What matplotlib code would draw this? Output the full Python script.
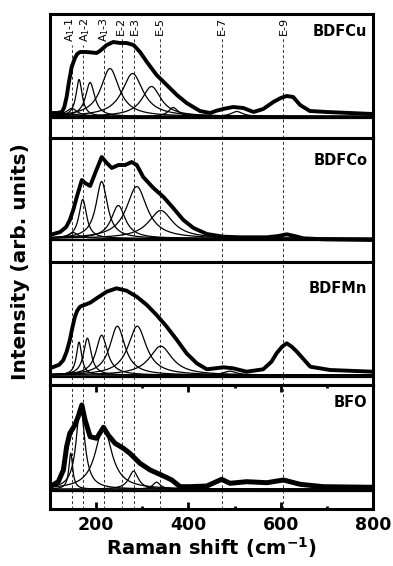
import numpy as np
import matplotlib
matplotlib.use("Agg")
import matplotlib.pyplot as plt
from matplotlib.ticker import MultipleLocator
import matplotlib.transforms as mtransforms

# ---------------- data ----------------
samples = ["BDFCu", "BDFCo", "BDFMn", "BFO"]

mode_labels = ["A$_1$-1", "A$_1$-2", "A$_1$-3", "E-2", "E-3", "E-5", "E-7", "E-9"]
mode_pos = [147, 172, 218, 257, 281, 339, 473, 606]

# measured spectra (thick lines): Raman shift and intensity (arb. units)
cu_x = [100, 115, 126, 131, 136, 141, 147, 154, 159, 165, 179, 190, 201, 208, 223, 237, 252, 266,
        281, 295, 310, 331, 353, 375, 396, 425, 447, 461, 480, 497, 519, 541, 562, 584, 600, 613,
        627, 642, 663, 700, 750, 800]
cu_y = [5, 5, 6, 11, 21, 36, 51, 60, 64, 66, 66, 65.5, 65, 67, 73, 76, 75, 75,
        73, 66, 56, 43, 33, 23, 15, 7, 5, 7.3, 9.5, 11, 10, 6, 9, 16, 20, 22,
        21, 13, 7, 6, 5, 4]

co_x = [100, 122, 135, 143, 151, 158, 169, 176, 187, 198, 212, 223, 234, 248, 263, 277, 288, 302,
        324, 346, 367, 389, 411, 440, 476, 512, 570, 595, 613, 630, 649, 692, 800]
co_y = [5, 8, 13, 20, 31, 43, 60, 57, 54, 67, 83, 77, 72, 75, 75, 78, 75, 63,
        52, 43, 32, 20, 12, 6, 3.3, 2.7, 2.7, 4, 5.7, 4, 1.7, 0.7, 0]

mn_x = [100, 120, 129, 136, 143, 148, 154, 159, 165, 176, 187, 201, 223, 244, 266, 288, 310, 331,
        353, 375, 396, 418, 440, 476, 497, 526, 562, 580, 591, 603, 613, 624, 635, 664, 707, 800]
mn_y = [8.4, 12, 16.7, 25, 36.7, 48, 60, 66, 70, 72, 74, 78.4, 85, 88.4, 86, 80, 71.7, 61.7,
        50, 36.7, 23.4, 13.4, 7.4, 9.4, 8.4, 5, 7.4, 15, 23.4, 30, 33.4, 30, 25, 10, 6.7, 5]

bfo_x = [100, 118, 129, 136, 143, 154, 161, 169, 176, 187, 201, 216, 226, 241, 259, 273, 295, 317,
         346, 364, 382, 403, 440, 472, 490, 526, 570, 606, 642, 692, 800]
bfo_y = [4, 9, 20.7, 44, 57.4, 65.7, 74, 85.7, 70.7, 54, 52.4, 63.4, 55.7, 47.4, 42.4, 37.4, 27.4, 20.7,
         14.7, 10.7, 4, 4, 4.7, 11.4, 7.4, 9, 8, 10.7, 6.4, 4, 3.4]

# fitted Lorentzian components (thin lines): centre, height, FWHM
cu_fit_c = [147, 163, 187, 230, 279, 320, 367, 505]
cu_fit_h = [8, 37, 34, 48, 43, 30, 9, 5]
cu_fit_w = [30, 16, 24, 48, 55, 50, 25, 30]

co_fit_c = [150, 171, 212, 248, 288, 340]
co_fit_h = [6, 39, 57, 33, 52, 28]
co_fit_w = [25, 20, 30, 37, 54, 64]

mn_fit_c = [163, 181, 212, 246, 289, 340, 490]
mn_fit_h = [33, 37, 40, 49, 49, 29, 4]
mn_fit_w = [14, 20, 30, 40, 48, 60, 35]

bfo_fit_c = [145, 166, 216, 281, 331]
bfo_fit_h = [36, 84, 62, 18, 7]
bfo_fit_w = [10, 22, 43, 25, 20]

fit_base = [1.5, 1.5, 1.5, 1.5]

meas_x = [cu_x, co_x, mn_x, bfo_x]
meas_y = [cu_y, co_y, mn_y, bfo_y]
fit_c = [cu_fit_c, co_fit_c, mn_fit_c, bfo_fit_c]
fit_h = [cu_fit_h, co_fit_h, mn_fit_h, bfo_fit_h]
fit_w = [cu_fit_w, co_fit_w, mn_fit_w, bfo_fit_w]

# ---------------- plotting ----------------
plt.rcParams['font.family'] = ['DejaVu Sans']

fig = plt.figure(figsize=(3.93, 5.66), dpi=100)
axes = fig.subplots(4, 1, sharex=True, gridspec_kw=dict(hspace=0))
fig.subplots_adjust(left=50/393, right=373/393, bottom=1-509/566, top=1-14/566)

ylims = [(-19.75, 104), (-21.5, 102.25), (-8.55, 115.2), (-18.3, 105.45)]
label_y = [0.855, 0.82, 0.785, 0.86]
thick_lw = [2.8, 2.8, 2.8, 3.6]

xx = np.linspace(100, 800, 1400)
for i, ax in enumerate(axes):
    ax.set_xlim(100, 800)
    ax.set_ylim(*ylims[i])
    for s in ax.spines.values():
        s.set_linewidth(2.2)
    ax.set_yticks([])
    ax.axhline(0, color='k', lw=1.6, zorder=2)
    for c, h, w in zip(fit_c[i], fit_h[i], fit_w[i]):
        yy = fit_base[i] + h / (1 + ((xx - c) / (w / 2)) ** 2)
        ax.plot(xx, yy, color='k', lw=0.9, zorder=3)
    ax.plot(meas_x[i], meas_y[i], color='k', lw=thick_lw[i], zorder=4,
            solid_joinstyle='round', solid_capstyle='round')
    ax.text(0.982, label_y[i], samples[i], transform=ax.transAxes, ha='right', va='center',
            fontsize=10.5, fontweight='bold')
    if i > 0:
        for p in mode_pos:
            ax.axvline(p, color='0.2', lw=0.7, ls=(0, (3, 2.5)), zorder=1)
    if i < 3:
        ax.tick_params(axis='x', which='both', bottom=False, top=False, labelbottom=False)

axb = axes[3]
axb.xaxis.set_major_locator(MultipleLocator(200))
axb.xaxis.set_minor_locator(MultipleLocator(100))
axb.tick_params(axis='x', which='major', direction='in', top=True, bottom=True,
                length=5, width=2, labelsize=12.5, pad=5)
axb.tick_params(axis='x', which='minor', direction='in', top=True, bottom=True,
                length=2.5, width=2)
for lab in axb.get_xticklabels():
    lab.set_fontweight('bold')
axb.set_xlabel("Raman shift (cm$^{\\mathbf{-1}}$)", fontsize=14, fontweight='bold', labelpad=1)

fig.text(21/393, 1-261.5/566, "Intensity (arb. units)", rotation=90, ha='center', va='center',
         fontsize=14.5, fontweight='bold')

# mode labels in the top panel (small pixel nudges keep neighbours apart)
nudge_px = [-1.8, 1.5, 0, -1.2, 1.2, 0, 0, 0]
ax0 = axes[0]
trans = mtransforms.blended_transform_factory(ax0.transData, ax0.transAxes)
texts = []
for lab, p, dpx in zip(mode_labels, mode_pos, nudge_px):
    tr = trans + mtransforms.ScaledTranslation(dpx / 100, 0, fig.dpi_scale_trans)
    t = ax0.text(p, 0.975, lab, transform=tr, rotation=90, ha='center', va='top', fontsize=8)
    texts.append(t)
fig.canvas.draw()
renderer = fig.canvas.get_renderer()
inv = ax0.transAxes.inverted()
for t, p in zip(texts, mode_pos):
    bb = t.get_window_extent(renderer)
    ybot = inv.transform((bb.x0, bb.y0))[1]
    ax0.axvline(p, ymin=0, ymax=ybot - 0.02, color='0.2', lw=0.7, ls=(0, (3, 2.5)), zorder=1)

fig.savefig("out.png", dpi=100)
